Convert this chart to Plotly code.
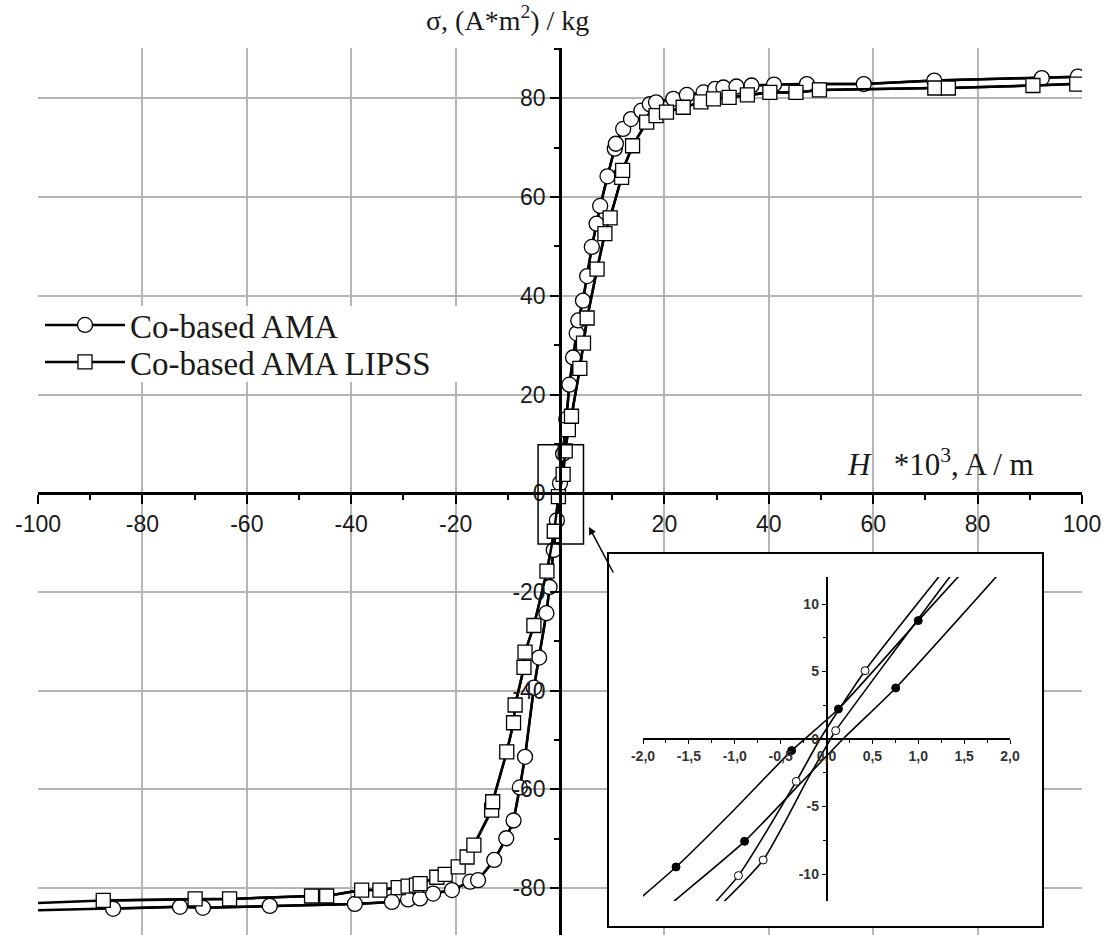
import plotly.graph_objects as go

W, H = 1113, 935

# ---------------- main chart data ----------------
# H * 10^3, A/m   vs   sigma, (A*m^2)/kg
ama_h = [-100, -85.6, -72.8, -68.4, -55.6, -39.3, -32.2, -29.1, -26.8, -24.3, -20.7,
         -17.2, -15.7, -12.6, -10.3, -8.9, -7.7, -6.7, -5.0, -4.0, -2.6, -2.0, -1.2,
         -0.6, 0.0, 0.6, 1.2, 1.8, 2.5, 3.2, 3.5, 4.4, 5.2, 6.1, 7.0, 7.7, 9.1, 10.5,
         10.7, 12.1, 13.6, 15.6, 17.2, 18.4, 21.7, 24.3, 27.5, 29.7, 31.3, 33.8, 36.7,
         41.0, 47.3, 58.2, 71.7, 92.3, 99.2, 100]
ama_s = [-84.5, -84.2, -83.8, -84.0, -83.6, -83.2, -82.8, -82.3, -82.1, -81.1, -80.4,
         -78.7, -78.4, -74.3, -69.9, -66.3, -59.6, -53.4, -39.4, -33.3, -24.3, -19.0, -11.5,
         -5.5, 2.0, 8.0, 15.0, 22.0, 27.5, 32.4, 35.0, 39.0, 44.0, 49.9, 54.6, 58.2, 64.2, 69.8,
         70.8, 73.8, 75.8, 77.5, 78.8, 79.2, 79.9, 80.7, 81.2, 81.9, 82.2, 82.4, 82.6,
         82.8, 82.9, 82.9, 83.6, 84.1, 84.4, 84.4]

lipss_h = [-100, -87.5, -69.9, -63.3, -47.6, -44.7, -38.0, -34.5, -31.0, -29.1, -27.5,
           -26.8, -23.6, -22.0, -19.5, -17.8, -16.5, -13.1, -12.9, -10.2, -8.9, -8.6,
           -6.9, -6.7, -5.0, -2.5, -1.1, -0.3, 0.6, 1.0, 1.6, 2.2, 3.8, 4.5, 5.2, 7.1,
           8.6, 9.6, 11.8, 12.0, 13.9, 16.6, 18.4, 20.4, 23.6, 27.0, 29.4, 32.4, 35.9,
           40.2, 45.2, 49.7, 71.8, 74.4, 90.6, 99.0, 100]
lipss_s = [-83.0, -82.5, -82.2, -82.2, -81.6, -81.6, -80.4, -80.4, -79.9, -79.6, -79.4,
           -79.1, -77.8, -77.2, -75.7, -73.7, -71.3, -64.2, -62.5, -52.4, -46.5, -42.9,
           -35.3, -32.2, -26.8, -15.8, -7.7, -0.7, 3.8, 8.6, 12.9, 15.6, 25.3, 30.4, 35.5, 45.4,
           52.6, 55.8, 64.0, 65.4, 70.4, 75.2, 76.5, 77.2, 78.2, 79.3, 79.9, 80.2, 80.7,
           81.2, 81.2, 81.7, 82.1, 82.1, 82.6, 82.9, 83.0]

x_ticks = [-100, -80, -60, -40, -20, 20, 40, 60, 80, 100]
x_minor = [-90, -70, -50, -30, -10, 10, 30, 50, 70, 90]
y_ticks = [-80, -60, -40, -20, 0, 20, 40, 60, 80]
y_minor = [-70, -50, -30, -10, 10, 30, 50, 70, 90]

# ---------------- inset data ----------------
fd_h = [-2.1, -1.64, -1.0, -0.38, 0.13, 1.0, 1.5]
fd_s = [-12.2, -9.48, -5.2, -0.86, 2.22, 8.77, 12.5]
fa_h = [-1.72, -1.65, -0.893, -0.3, 0.18, 0.754, 1.9]
fa_s = [-12.4, -11.96, -7.58, -3.4, 0.0, 3.78, 12.4]
od_h = [-1.27, -0.96, -0.33, -0.07, 0.42, 1.22, 1.28]
od_s = [-12.5, -10.12, -3.14, 0.0, 5.06, 11.98, 12.5]
oa_h = [-1.17, -0.69, -0.2, 0.044, 0.10, 1.34, 1.40]
oa_s = [-12.4, -8.96, -2.9, 0.0, 0.62, 11.98, 12.5]
filled_h = [-1.64, -0.893, -0.38, 0.13, 0.754, 1.0]
filled_s = [-9.48, -7.58, -0.86, 2.22, 3.78, 8.77]
open_h = [-0.96, -0.69, -0.33, 0.10, 0.42]
open_s = [-10.12, -8.96, -3.14, 0.62, 5.06]
ins_x_ticks = [-2.0, -1.5, -1.0, -0.5, 0.0, 0.5, 1.0, 1.5, 2.0]
ins_x_labels = ["-2,0", "-1,5", "-1,0", "-0,5", "0,0", "0,5", "1,0", "1,5", "2,0"]
ins_x_minor = [-1.75, -1.25, -0.75, -0.25, 0.25, 0.75, 1.25, 1.75]
ins_y_ticks = [-10, -5, 0, 5, 10]
ins_y_minor = [-7.5, -2.5, 2.5, 7.5]


def px(p):
    return p / W


def py(p):
    return (H - p) / H


fig = go.Figure()

# main curves
fig.add_trace(go.Scatter(x=ama_h, y=ama_s, mode="lines", line=dict(color="black", width=2.5),
                         showlegend=False, hoverinfo="skip"))
fig.add_trace(go.Scatter(x=lipss_h, y=lipss_s, mode="lines", line=dict(color="black", width=2.5),
                         showlegend=False, hoverinfo="skip"))
fig.add_trace(go.Scatter(x=ama_h[1:-1], y=ama_s[1:-1], mode="lines+markers", name="Co-based AMA",
                         line=dict(color="black", width=2.5), legend="legend",
                         marker=dict(symbol="circle", size=15, color="white",
                                     line=dict(color="black", width=1.3))))
fig.add_trace(go.Scatter(x=lipss_h[1:-1], y=lipss_s[1:-1], mode="lines+markers",
                         name="Co-based AMA LIPSS", legend="legend2",
                         line=dict(color="black", width=2.5),
                         marker=dict(symbol="square", size=14, color="white",
                                     line=dict(color="black", width=1.3))))

# inset background box subplot (x2/y2)
fig.add_trace(go.Scatter(x=[], y=[], xaxis="x2", yaxis="y2", showlegend=False))

# inset curves (x3/y3)
for hh, ss in [(fd_h, fd_s), (fa_h, fa_s), (od_h, od_s), (oa_h, oa_s)]:
    fig.add_trace(go.Scatter(x=hh, y=ss, xaxis="x3", yaxis="y3", mode="lines",
                             line=dict(color="black", width=1.6, shape="spline", smoothing=0.6),
                             showlegend=False, hoverinfo="skip"))
fig.add_trace(go.Scatter(x=filled_h, y=filled_s, xaxis="x3", yaxis="y3", mode="markers",
                         marker=dict(symbol="circle", size=8, color="black",
                                     line=dict(color="black", width=1)), showlegend=False))
fig.add_trace(go.Scatter(x=open_h, y=open_s, xaxis="x3", yaxis="y3", mode="markers",
                         marker=dict(symbol="circle", size=8, color="white",
                                     line=dict(color="black", width=1)), showlegend=False))

# geometry
main_y_range = [-89.5, 90.2]
main_y_dom = [0, py(48)]
xpos = (0 - main_y_range[0]) / (main_y_range[1] - main_y_range[0]) * (main_y_dom[1] - main_y_dom[0]) + main_y_dom[0]
ins_y_dom = [py(901), py(577)]
ins_x_dom = [px(643), px(1010)]

tick_font = dict(family="Liberation Sans, Arial", size=23, color="#1a1a1a")
ins_font = dict(family="Liberation Sans, Arial", size=14, color="#333333", weight="bold")
leg_font = dict(family="Liberation Serif, Times New Roman", size=33, color="#1a1a1a")

fig.update_layout(
    width=W, height=H,
    margin=dict(l=0, r=0, t=0, b=0, autoexpand=False),
    paper_bgcolor="white", plot_bgcolor="white",
    xaxis=dict(domain=[px(38), px(1082)], range=[-100, 100], anchor="free", position=xpos,
               automargin=False,
               showline=True, linecolor="black", linewidth=2.5,
               ticks="outside", ticklen=9, tickwidth=2, tickcolor="black",
               tickmode="array", tickvals=x_ticks, ticktext=[str(v) for v in x_ticks],
               tickfont=tick_font, showgrid=True, gridcolor="#b5b5b5", gridwidth=1.5,
               zeroline=False,
               minor=dict(tickmode="array", tickvals=x_minor, ticklen=5, tickwidth=2,
                          tickcolor="black", showgrid=False)),
    yaxis=dict(domain=main_y_dom, range=main_y_range, anchor="free", position=px(560),
               automargin=False,
               showline=True, linecolor="black", linewidth=2.5,
               ticks="outside", ticklen=9, tickwidth=2, tickcolor="black",
               tickmode="array", tickvals=y_ticks, ticktext=[str(v) for v in y_ticks],
               tickfont=tick_font, showgrid=True, gridcolor="#b5b5b5", gridwidth=1.5,
               zeroline=False,
               minor=dict(tickmode="array", tickvals=y_minor, ticklen=5, tickwidth=2,
                          tickcolor="black", showgrid=False)),
    xaxis2=dict(domain=[px(608), px(1043)], range=[0, 1], visible=False, anchor="y2",
                automargin=False),
    yaxis2=dict(domain=[py(927), py(553)], range=[0, 1], visible=False, anchor="x2",
                automargin=False),
    xaxis3=dict(domain=ins_x_dom, range=[-2, 2], anchor="free",
                position=(ins_y_dom[0] + ins_y_dom[1]) / 2, automargin=False,
                showline=True, linecolor="black", linewidth=1.5,
                ticks="outside", ticklen=4, tickwidth=1, tickcolor="black",
                tickmode="array", tickvals=ins_x_ticks, ticktext=ins_x_labels,
                tickfont=ins_font, showgrid=False, zeroline=False,
                minor=dict(tickmode="array", tickvals=ins_x_minor, ticklen=3, tickwidth=1,
                           tickcolor="black")),
    yaxis3=dict(domain=ins_y_dom, range=[-12, 12], anchor="free",
                position=(ins_x_dom[0] + ins_x_dom[1]) / 2, automargin=False,
                showline=True, linecolor="black", linewidth=1.5,
                ticks="outside", ticklen=4, tickwidth=1, tickcolor="black",
                tickmode="array", tickvals=ins_y_ticks, ticktext=[str(v) for v in ins_y_ticks],
                tickfont=ins_font, showgrid=False, zeroline=False,
                minor=dict(tickmode="array", tickvals=ins_y_minor, ticklen=3, tickwidth=1,
                           tickcolor="black")),
    legend=dict(x=px(40), y=py(325), xanchor="left", yanchor="middle",
                bgcolor="rgba(0,0,0,0)", borderwidth=0, itemwidth=80, font=leg_font),
    legend2=dict(x=px(40), y=py(362), xanchor="left", yanchor="middle",
                 bgcolor="rgba(0,0,0,0)", borderwidth=0, itemwidth=80, font=leg_font),
    showlegend=True,
)

# white patch behind the legend rows (hides grid lines there)
fig.add_shape(type="rect", xref="paper", yref="paper", x0=px(30), x1=px(460),
              y0=py(382), y1=py(306), fillcolor="white", line=dict(width=0), layer="above")
# small rectangle marking the zoomed region
fig.add_shape(type="rect", xref="x", yref="y", x0=-4.2, x1=4.5, y0=-10.3, y1=9.8,
              line=dict(color="black", width=1.5), layer="above")
# inset frame
fig.add_shape(type="rect", xref="paper", yref="paper", x0=px(608), x1=px(1043),
              y0=py(927), y1=py(553), line=dict(color="black", width=2), layer="above")

# arrow
fig.add_annotation(xref="paper", yref="paper", x=px(589), y=py(527), ax=25, ay=47,
                   text="", showarrow=True, arrowhead=2, arrowsize=1, arrowwidth=1.5,
                   arrowcolor="black")

# axis titles
fig.add_annotation(xref="paper", yref="paper", x=px(507), y=py(18), xanchor="center",
                   yanchor="middle", text="σ, (A*m<sup>2</sup>) / kg",
                   showarrow=False, font=dict(family="Liberation Serif, Times New Roman", size=28,
                                              color="#1a1a1a"))
fig.add_annotation(xref="paper", yref="paper", x=px(940), y=py(462), xanchor="center",
                   yanchor="middle",
                   text="<i>H</i>&nbsp;&nbsp; *10<sup>3</sup>, A / m",
                   showarrow=False, font=dict(family="Liberation Serif, Times New Roman", size=31,
                                              color="#1a1a1a"))

fig.write_html("out.html")
